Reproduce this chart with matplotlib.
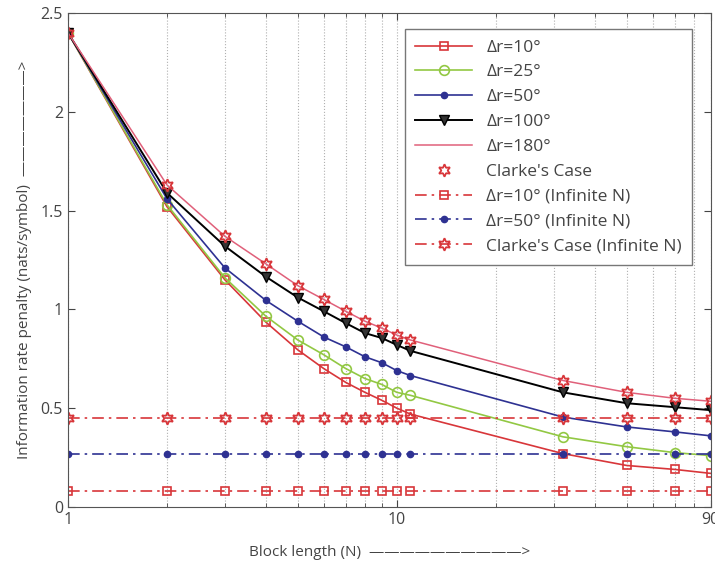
import numpy as np
import matplotlib.pyplot as plt
from matplotlib.ticker import FixedLocator, NullFormatter

plt.rcParams['font.family'] = ['Open Sans', 'DejaVu Sans']

# block lengths N
N = [1, 2, 3, 4, 5, 6, 7, 8, 9, 10, 11, 32, 50, 70, 90]

# information rate penalty (nats/symbol) per angular spread
pen_10  = [2.40, 1.52, 1.15, 0.935, 0.795, 0.70, 0.63, 0.58, 0.54, 0.50, 0.47, 0.27, 0.21, 0.19, 0.17]
pen_25  = [2.40, 1.53, 1.16, 0.965, 0.845, 0.77, 0.70, 0.65, 0.62, 0.58, 0.565, 0.355, 0.305, 0.275, 0.26]
pen_50  = [2.40, 1.56, 1.21, 1.045, 0.94, 0.86, 0.81, 0.76, 0.73, 0.69, 0.665, 0.455, 0.405, 0.38, 0.36]
pen_100 = [2.40, 1.59, 1.32, 1.165, 1.06, 0.99, 0.93, 0.88, 0.855, 0.82, 0.79, 0.58, 0.525, 0.505, 0.49]
pen_180 = [2.40, 1.63, 1.37, 1.23, 1.12, 1.05, 0.99, 0.94, 0.905, 0.87, 0.845, 0.64, 0.58, 0.55, 0.535]
clarke  = pen_180

# asymptotic (infinite N) penalties
inf_10 = 0.08
inf_50 = 0.27
inf_clarke = 0.45

red = '#d8363a'
green = '#92c843'
blue = '#2e3192'
pink = '#e0607a'
star = (6, 1, 0)
dashdot = (7, 3, 1.5, 3)

fig = plt.figure(figsize=(7.15, 5.61), dpi=100)
ax = fig.add_axes([0.095, 0.0963, 0.899, 0.8806])

ax.plot(N, pen_10, '-', color=red, marker='s', ms=6, mfc='none', mew=1.2, lw=1.2, label='Δr=10°')
ax.plot(N, pen_25, '-', color=green, marker='o', ms=7, mfc='none', mew=1.2, lw=1.2, label='Δr=25°')
ax.plot(N, pen_50, '-', color=blue, marker='.', ms=9, lw=1.2, label='Δr=50°')
ax.plot(N, pen_100, '-', color='black', marker='v', ms=7, mfc='#333333', mew=1.0, lw=1.4, label='Δr=100°')
ax.plot(N, pen_180, '-', color=pink, lw=1.1, label='Δr=180°')
ax.plot(N, clarke, linestyle='none', color=red, marker=star, ms=9, mfc='none', mew=1.3, label="Clarke's Case")
ax.plot(N, [inf_10] * len(N), color=red, dashes=dashdot, marker='s', ms=6, mfc='none', mew=1.2, lw=1.2,
        label='Δr=10° (Infinite N)')
ax.plot(N, [inf_50] * len(N), color=blue, dashes=dashdot, marker='.', ms=9, lw=1.2,
        label='Δr=50° (Infinite N)')
ax.plot(N, [inf_clarke] * len(N), color=red, dashes=dashdot, marker=star, ms=9, mfc='none', mew=1.3, lw=1.2,
        label="Clarke's Case (Infinite N)")

ax.set_xscale('log')
ax.set_xlim(1, 90)
ax.set_ylim(0, 2.5)
ax.xaxis.set_major_locator(FixedLocator([1, 10, 90]))
ax.xaxis.set_minor_locator(FixedLocator([2, 3, 4, 5, 6, 7, 8, 9, 20, 30, 40, 50, 60, 70, 80]))
ax.xaxis.set_minor_formatter(NullFormatter())
ax.set_xticklabels(['1', '10', '90'])
ax.set_yticks([0, 0.5, 1, 1.5, 2, 2.5])
ax.set_yticklabels(['0', '0.5', '1', '1.5', '2', '2.5'])
ax.tick_params(which='both', direction='in', top=True, right=True, labelsize=11.5, colors='#444444')
ax.tick_params(which='major', length=5)
ax.tick_params(which='minor', length=3)
ax.grid(True, which='both', axis='x', linestyle=':', color='#b0b0b0', lw=0.8)
for s in ax.spines.values():
    s.set_color('#555555')

ax.set_xlabel('Block length (N)  ——————————>', fontsize=11, color='#444444', labelpad=12)
ax.set_ylabel('Information rate penalty (nats/symbol)  ———————>', fontsize=11, color='#444444', labelpad=6)

leg = ax.legend(loc='upper right', bbox_to_anchor=(0.985, 0.985), fontsize=12.5, handlelength=3.3,
                labelspacing=0.5, fancybox=False, framealpha=1, edgecolor='#777777', borderpad=0.6)
for t in leg.get_texts():
    t.set_color('#444444')

fig.savefig('out.png', dpi=100)
